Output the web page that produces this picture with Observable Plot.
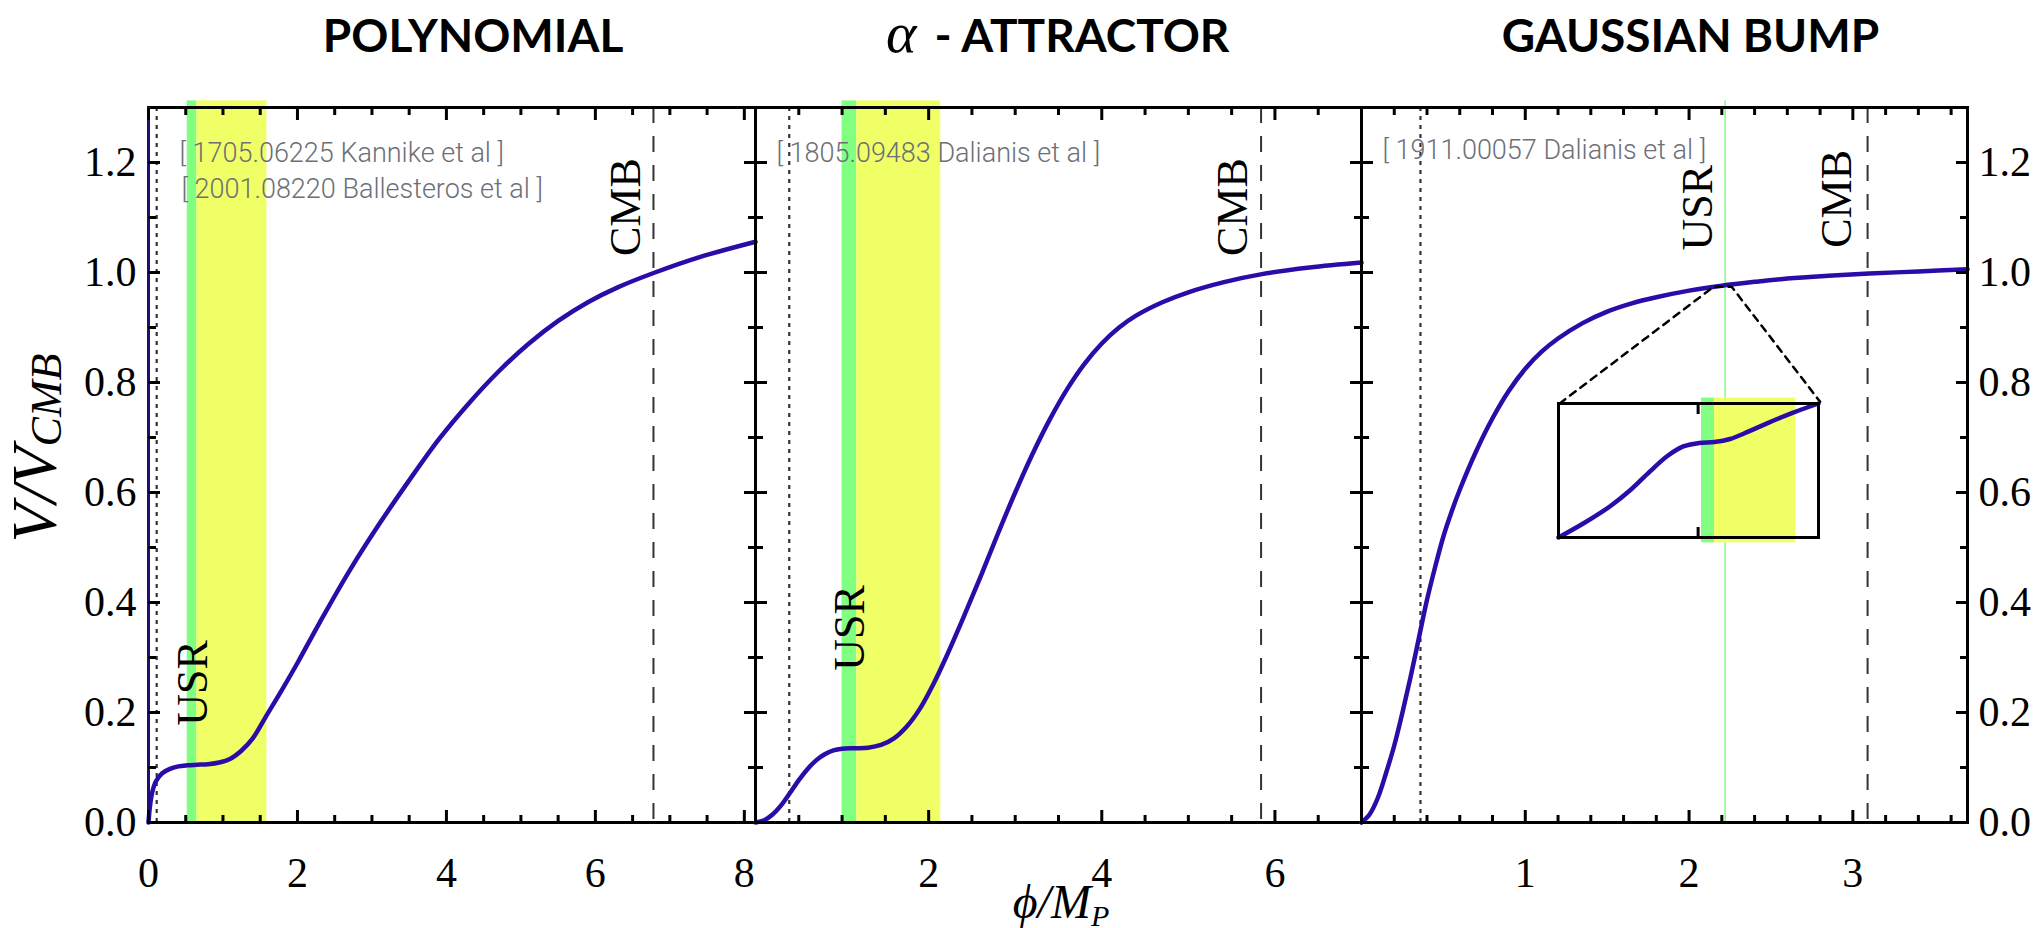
<!DOCTYPE html>
<html>
<head>
<meta charset="utf-8">
<script src="https://cdn.jsdelivr.net/npm/d3@7"></script>
<script src="https://cdn.jsdelivr.net/npm/@observablehq/plot@0.6"></script>
<style>
  html, body { margin: 0; padding: 0; background: #fff; }
  #chart { position: relative; width: 2043px; height: 928px; background: #fff; overflow: hidden; }
  #chart svg { position: absolute; top: 0; margin: 0; }
  .axlab { position: absolute; font-family: "Liberation Serif", "Times New Roman", "DejaVu Serif", serif; font-style: italic; white-space: nowrap; color: #000; line-height: 1; }
  .axlab sub { line-height: 0; }
</style>
</head>
<body>
<div id="chart"></div>
<script>
// ---------- data ----------
// Panel 1: polynomial potential
const polyPhi = [0, 0.02, 0.05, 0.1, 0.18, 0.28, 0.4, 0.52, 0.65, 0.8, 0.95, 1.1, 1.25, 1.4, 1.6, 1.8, 2.0, 2.3, 2.7, 3.1, 3.5, 3.9, 4.3, 4.7, 5.1, 5.5, 5.9, 6.3, 6.8, 7.4, 8.15];
const polyV   = [0, 0.03, 0.055, 0.075, 0.089, 0.097, 0.102, 0.104, 0.105, 0.106, 0.109, 0.116, 0.131, 0.153, 0.198, 0.243, 0.29, 0.364, 0.458, 0.543, 0.622, 0.697, 0.762, 0.82, 0.87, 0.912, 0.946, 0.973, 1.0, 1.028, 1.056];
const polyUSR = [0.52, 0.65, 1.59];     // green start, green end / yellow start, yellow end
const polyCMB = 6.78;
const polyDot = 0.11;
const polyRefs = ["[ 1705.06225 Kannike et al ]", "[ 2001.08220 Ballesteros et al ]"];
const polyTags = [{label: "CMB", x: 6.6, y: 1.03}, {label: "USR", x: 0.78, y: 0.176}];

// Panel 2: alpha-attractor
const attrPhi = [0, 0.1, 0.2, 0.3, 0.4, 0.5, 0.6, 0.7, 0.8, 0.9, 1.0, 1.15, 1.3, 1.45, 1.6, 1.75, 1.9, 2.05, 2.2, 2.4, 2.6, 2.8, 3.0, 3.2, 3.4, 3.6, 3.8, 4.0, 4.2, 4.4, 4.7, 5.0, 5.4, 5.85, 6.4, 7.0];
const attrV   = [0, 0.004, 0.015, 0.032, 0.054, 0.077, 0.097, 0.113, 0.124, 0.131, 0.134, 0.135, 0.136, 0.141, 0.153, 0.175, 0.207, 0.25, 0.3, 0.372, 0.447, 0.525, 0.6, 0.67, 0.733, 0.788, 0.834, 0.871, 0.9, 0.922, 0.946, 0.964, 0.982, 0.997, 1.009, 1.018];
const attrUSR = [1.0, 1.17, 2.14];
const attrCMB = 5.84;
const attrDot = 0.39;
const attrRefs = ["[ 1805.09483 Dalianis et al ]"];
const attrTags = [{label: "CMB", x: 5.68, y: 1.03}, {label: "USR", x: 1.25, y: 0.276}];

// Panel 3: gaussian bump
const gaussPhi = [0, 0.05, 0.1, 0.15, 0.2, 0.25, 0.3, 0.35, 0.4, 0.45, 0.5, 0.55, 0.6, 0.7, 0.8, 0.9, 1.0, 1.1, 1.2, 1.35, 1.5, 1.65, 1.8, 2.0, 2.2, 2.4, 2.6, 2.85, 3.1, 3.4, 3.7];
const gaussV   = [0, 0.015, 0.045, 0.09, 0.14, 0.2, 0.265, 0.335, 0.405, 0.465, 0.52, 0.565, 0.605, 0.675, 0.735, 0.785, 0.825, 0.856, 0.88, 0.908, 0.929, 0.944, 0.955, 0.967, 0.976, 0.983, 0.989, 0.994, 0.998, 1.002, 1.006];
const gaussUSR = 2.22;
const gaussCMB = 3.09;
const gaussDot = 0.36;
const gaussRefs = ["[ 1911.00057 Dalianis et al ]"];
const gaussTags = [{label: "USR", x: 2.14, y: 1.04}, {label: "CMB", x: 2.99, y: 1.045}];
const zoomPhi = [1.21, 2.15, 2.26, 2.8];
const zoomV   = [0.762, 0.974, 0.974, 0.765];

// Inset (zoom on the bump), local units
const insetU = [0, 0.1, 0.2, 0.28, 0.35, 0.42, 0.48, 0.54, 0.6, 0.66, 0.73, 0.8, 0.9, 1];
const insetV = [0, 0.11, 0.235, 0.36, 0.49, 0.61, 0.68, 0.705, 0.712, 0.735, 0.79, 0.85, 0.93, 1];
const insetUSR = [0.55, 0.6, 0.913];
const insetTick = [0.537];

// Ticks
const yMajor = [0, 0.2, 0.4, 0.6, 0.8, 1.0, 1.2];
const yMinor = [0.1, 0.3, 0.5, 0.7, 0.9, 1.1];
const polyXMajor = [0, 2, 4, 6, 8];
const polyXMinor = [0.5, 1, 1.5, 2.5, 3, 3.5, 4.5, 5, 5.5, 6.5, 7, 7.5];
const attrXMajor = [0, 2, 4, 6];
const attrXMinor = [0.5, 1, 1.5, 2.5, 3, 3.5, 4.5, 5, 5.5, 6.5];
const attrXLabels = [2, 4, 6];
const gaussXMajor = [1, 2, 3];
const gaussXMinor = [0.2, 0.4, 0.6, 0.8, 1.2, 1.4, 1.6, 1.8, 2.2, 2.4, 2.6, 2.8, 3.2, 3.4, 3.6];

const titles = ["POLYNOMIAL", "α", "- ATTRACTOR", "GAUSSIAN BUMP"];

// ---------- styling ----------
const SERIF = "'Liberation Serif', 'Times New Roman', serif";
const SANS = "Lato, 'Noto Sans', sans-serif";
const LIGHT = "Roboto, 'Liberation Sans', sans-serif";
const CURVE = "#2b0ca8";
const GREEN = "#80ff80";
const YELLOW = "#f0ff66";
const DASH = "#333";
const REFGRAY = "#6c6f76";
const FT = 107, FB = 822, H = 928;

const chart = document.getElementById("chart");

function tickMarks(xMajor, xMinor) {
  const m = [];
  for (const anchor of ["bottom", "top"]) {
    m.push(Plot.axisX(xMajor, {anchor, tickSize: -12, strokeWidth: 3, fill: "none", label: null}));
    m.push(Plot.axisX(xMinor, {anchor, tickSize: -7, strokeWidth: 3, fill: "none", label: null}));
  }
  for (const anchor of ["left", "right"]) {
    m.push(Plot.axisY(yMajor, {anchor, tickSize: -12, strokeWidth: 3, fill: "none", label: null}));
    m.push(Plot.axisY(yMinor, {anchor, tickSize: -8, strokeWidth: 3, fill: "none", label: null}));
  }
  return m;
}

function bands(usr) {
  return [
    Plot.rect([usr], {x1: d => d[0], x2: d => d[1], y1: 0, y2: 1.312, fill: GREEN}),
    Plot.rect([usr], {x1: d => d[1], x2: d => d[2], y1: 0, y2: 1.312, fill: YELLOW})
  ];
}

function curve(phi, v) {
  return Plot.line(phi, {x: phi, y: v, stroke: CURVE, strokeWidth: 4.5, curve: "catmull-rom"});
}

function vlines(cmb, dot) {
  return [
    Plot.ruleX([dot], {stroke: DASH, strokeWidth: 2.2, strokeDasharray: "4,5"}),
    Plot.ruleX([cmb], {stroke: DASH, strokeWidth: 2, strokeDasharray: "16,13"})
  ];
}

function tags(t) {
  return Plot.text(t, {x: "x", y: "y", text: "label", rotate: -90, textAnchor: "start", lineAnchor: "bottom",
    fontSize: 44, fontFamily: SERIF, fill: "#000"});
}

function refText(s, dx, dy) {
  return Plot.text([s], {frameAnchor: "top-left", text: d => d, dx, dy, lineAnchor: "bottom", textAnchor: "start",
    fontSize: 27, fontFamily: LIGHT, fontWeight: 300, fill: REFGRAY});
}

function titleText(s, dx, opts = {}) {
  return Plot.text([s], {frameAnchor: "top", text: d => d, dx, dy: -56, lineAnchor: "bottom",
    fontSize: 46, fontFamily: SANS, fontWeight: 700, fill: "#000", ...opts});
}

function panel({left, width, ml, mr, domain, marks}) {
  const svg = Plot.plot({
    width: ml + width + mr, height: H,
    marginTop: FT, marginBottom: H - FB, marginLeft: ml, marginRight: mr,
    x: {domain, label: null}, y: {domain: [0, 1.3], label: null},
    style: {background: "transparent", overflow: "visible", fontFamily: SERIF, color: "#000"},
    marks
  });
  svg.style.left = (left - ml) + "px";
  chart.appendChild(svg);
  return svg;
}

const yFmt = d3.format(".1f");
const xFmt = d => String(d);

// Panel 1
panel({
  left: 148, width: 607, ml: 148, mr: 0, domain: [0, 8.15],
  marks: [
    ...bands(polyUSR),
    ...vlines(polyCMB, polyDot),
    curve(polyPhi, polyV),
    refText(polyRefs[0], 31, 54),
    refText(polyRefs[1], 33, 90),
    tags(polyTags),
    titleText(titles[0], 21),
    Plot.frame({stroke: "#000", strokeWidth: 3}),
    Plot.ruleX([0], {stroke: "#1d1070", strokeWidth: 3}),
    ...tickMarks(polyXMajor, polyXMinor),
    Plot.axisX(polyXMajor, {anchor: "bottom", tickSize: 0, tickPadding: 35, fontSize: 42, fontFamily: SERIF, tickFormat: xFmt, label: null}),
    Plot.axisY(yMajor, {anchor: "left", tickSize: 0, tickPadding: 12, fontSize: 42, fontFamily: SERIF, tickFormat: yFmt, label: null})
  ]
});

// Panel 2
panel({
  left: 755, width: 606, ml: 0, mr: 0, domain: [0, 7],
  marks: [
    ...bands(attrUSR),
    ...vlines(attrCMB, attrDot),
    curve(attrPhi, attrV),
    refText(attrRefs[0], 21, 54),
    tags(attrTags),
    titleText(titles[1], -142, {fontFamily: SERIF, fontStyle: "italic", fontWeight: 400, fontSize: 58, textAnchor: "end"}),
    titleText(titles[2], -124, {textAnchor: "start"}),
    Plot.frame({stroke: "#000", strokeWidth: 3}),
    ...tickMarks(attrXMajor, attrXMinor),
    Plot.axisX(attrXLabels, {anchor: "bottom", tickSize: 0, tickPadding: 35, fontSize: 42, fontFamily: SERIF, tickFormat: xFmt, label: null})
  ]
});

// Panel 3
panel({
  left: 1361, width: 606, ml: 0, mr: 76, domain: [0, 3.7],
  marks: [
    Plot.ruleX([gaussUSR], {y1: 0, y2: 1.312, stroke: GREEN, strokeWidth: 1.5}),
    ...vlines(gaussCMB, gaussDot),
    curve(gaussPhi, gaussV),
    Plot.line(zoomPhi, {x: zoomPhi, y: zoomV, stroke: "#000", strokeWidth: 2.5, strokeDasharray: "7,6"}),
    refText(gaussRefs[0], 21, 51),
    tags(gaussTags),
    titleText(titles[3], 26),
    Plot.frame({stroke: "#000", strokeWidth: 3}),
    ...tickMarks(gaussXMajor, gaussXMinor),
    Plot.axisX(gaussXMajor, {anchor: "bottom", tickSize: 0, tickPadding: 35, fontSize: 42, fontFamily: SERIF, tickFormat: xFmt, label: null}),
    Plot.axisY(yMajor, {anchor: "right", tickSize: 0, tickPadding: 11, fontSize: 42, fontFamily: SERIF, tickFormat: yFmt, label: null})
  ]
});

// Inset
const inset = Plot.plot({
  width: 260, height: 134, margin: 0,
  x: {domain: [0, 1], label: null}, y: {domain: [0, 1], label: null, axis: null},
  style: {background: "transparent", overflow: "visible"},
  marks: [
    Plot.frame({fill: "#fff", stroke: "none"}),
    Plot.rect([insetUSR], {x1: d => d[0], x2: d => d[1], y1: -0.04, y2: 1.04, fill: GREEN}),
    Plot.rect([insetUSR], {x1: d => d[1], x2: d => d[2], y1: -0.04, y2: 1.04, fill: YELLOW}),
    Plot.line(insetU, {x: insetU, y: insetV, stroke: CURVE, strokeWidth: 4.5, curve: "catmull-rom"}),
    Plot.frame({stroke: "#000", strokeWidth: 3}),
    Plot.axisX(insetTick, {anchor: "top", tickSize: -10, strokeWidth: 3, fill: "none", label: null}),
    Plot.axisX(insetTick, {anchor: "bottom", tickSize: -10, strokeWidth: 3, fill: "none", label: null})
  ]
});
inset.style.left = "1558px";
inset.style.top = "403px";
chart.appendChild(inset);

// Axis titles (mixed sizes -> HTML text)
const ylab = document.createElement("div");
ylab.className = "axlab";
ylab.innerHTML = 'V/V<sub style="font-size:44px;vertical-align:-0.12em">CMB</sub>';
ylab.style.fontSize = "64px";
ylab.style.left = "35px";
ylab.style.top = "448px";
ylab.style.transform = "translate(-50%,-50%) rotate(-90deg)";
chart.appendChild(ylab);

const xlab = document.createElement("div");
xlab.className = "axlab";
xlab.innerHTML = 'ϕ/M<sub style="font-size:30px;vertical-align:-0.25em">P</sub>';
xlab.style.fontSize = "48px";
xlab.style.left = "1061px";
xlab.style.top = "878px";
xlab.style.transform = "translateX(-50%)";
chart.appendChild(xlab);
</script>
</body>
</html>
